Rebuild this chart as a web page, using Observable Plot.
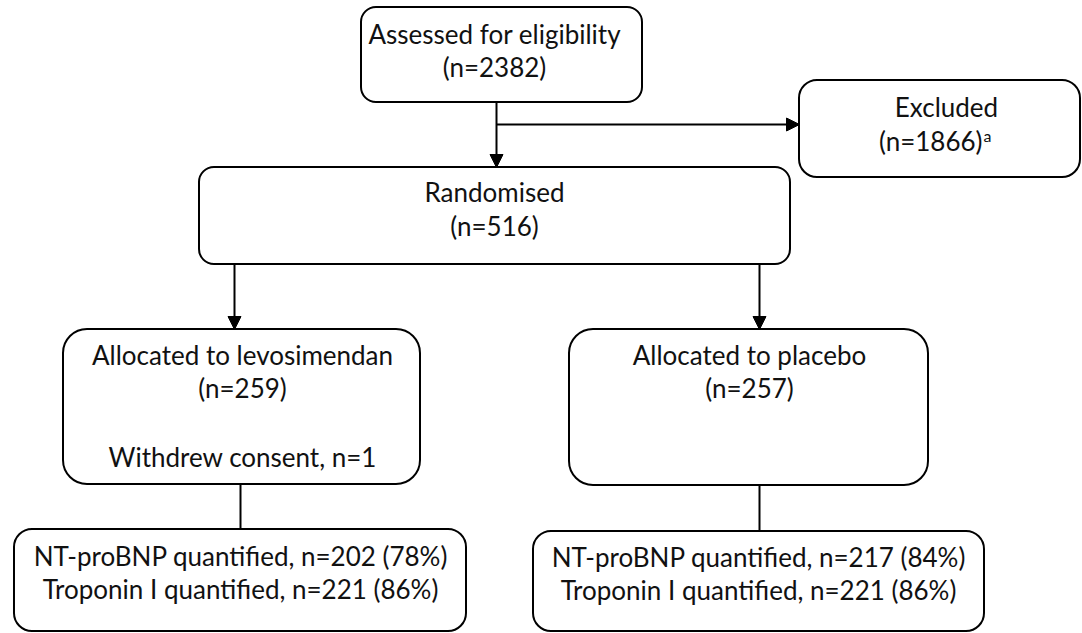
<!DOCTYPE html>
<html>
<head>
<meta charset="utf-8">
<script src="https://cdn.jsdelivr.net/npm/d3@7"></script>
<script src="https://cdn.jsdelivr.net/npm/@observablehq/plot@0.6"></script>
<style>
  html, body { margin: 0; padding: 0; background: #fff; }
  #chart svg { display: block; }
</style>
</head>
<body>
<div id="chart"></div>
<script>
// ---- data ----
const stageNames = ["Assessed for eligibility", "Excluded", "Randomised", "Allocated to levosimendan", "Allocated to placebo"];
const stageCounts = [2382, 1866, 516, 259, 257];
const withdrewLevo = 1;
const measureNames = ["NT-proBNP quantified", "Troponin I quantified"];
const levoMeasured = [202, 221];
const levoPercent = [78, 86];
const placeboMeasured = [217, 221];
const placeboPercent = [84, 86];
const footnoteMark = "a";

// ---- layout (diagram geometry) ----
const W = 1082, H = 633;
const boxLayout = [
  {x1: 361, x2: 642, y1: 7,   y2: 102, r: 15}, // assessed
  {x1: 799, x2: 1080, y1: 80, y2: 177, r: 18}, // excluded
  {x1: 199, x2: 790, y1: 167, y2: 264, r: 15}, // randomised
  {x1: 63,  x2: 420, y1: 329, y2: 484, r: 24}, // levo
  {x1: 569, x2: 928, y1: 329, y2: 485, r: 24}, // placebo
  {x1: 14,  x2: 466, y1: 529, y2: 631, r: 18}, // levo measured
  {x1: 533, x2: 984, y1: 531, y2: 631, r: 18}  // placebo measured
];
const textLayout = [
  {x: 494, y: [43, 76]},   // assessed
  {x: 946, y: [116, 150]}, // excluded
  {x: 494, y: [201, 235]}, // randomised
  {x: 242, y: [364, 397]}, // levo
  {x: 749, y: [364, 397]}, // placebo
];
const withdrewPos = {x: 242, y: 466};
const measuredPos = [{x: 240, y: [565, 598]}, {x: 758, y: [566, 599]}];
const excludedCountEnd = 982;
const connectors = [
  {x1: 496, y1: 102, x2: 496, y2: 167, head: true},
  {x1: 496, y1: 124, x2: 799, y2: 124, head: true},
  {x1: 234, y1: 264, x2: 234, y2: 329, head: true},
  {x1: 759, y1: 264, x2: 759, y2: 329, head: true},
  {x1: 240, y1: 484, x2: 240, y2: 529, head: false},
  {x1: 759, y1: 485, x2: 759, y2: 531, head: false}
];
const headLen = 13, headHalf = 6.5;

// ---- build tables ----
const texts = [];
const endTexts = [];
stageNames.forEach((name, i) => {
  const L = textLayout[i];
  texts.push({x: L.x, y: L.y[0], t: name});
  if (i === 1) endTexts.push({x: excludedCountEnd, y: L.y[1], t: `(n=${stageCounts[i]})`});
  else texts.push({x: L.x, y: L.y[1], t: `(n=${stageCounts[i]})`});
});
texts.push({x: withdrewPos.x, y: withdrewPos.y, t: `Withdrew consent, n=${withdrewLevo}`});
measureNames.forEach((m, j) => {
  texts.push({x: measuredPos[0].x, y: measuredPos[0].y[j], t: `${m}, n=${levoMeasured[j]} (${levoPercent[j]}%)`});
  texts.push({x: measuredPos[1].x, y: measuredPos[1].y[j], t: `${m}, n=${placeboMeasured[j]} (${placeboPercent[j]}%)`});
});
const sup = [{x: excludedCountEnd + 1, y: 141, t: footnoteMark}];

const stems = connectors.map(c => {
  if (!c.head) return c;
  const dx = Math.sign(c.x2 - c.x1), dy = Math.sign(c.y2 - c.y1);
  return {x1: c.x1, y1: c.y1, x2: c.x2 - dx * headLen, y2: c.y2 - dy * headLen};
});
const heads = [];
connectors.filter(c => c.head).forEach((c, k) => {
  const dx = Math.sign(c.x2 - c.x1), dy = Math.sign(c.y2 - c.y1);
  const bx = c.x2 - dx * headLen, by = c.y2 - dy * headLen;
  const px = -dy, py = dx;
  heads.push({k, x: c.x2, y: c.y2});
  heads.push({k, x: bx + px * headHalf, y: by + py * headHalf});
  heads.push({k, x: bx - px * headHalf, y: by - py * headHalf});
  heads.push({k, x: c.x2, y: c.y2});
});

const radii = Array.from(new Set(boxLayout.map(b => b.r)));
const font = "Lato, 'Open Sans', sans-serif";
const fs = 26;
const chart = Plot.plot({
  width: W, height: H,
  margin: 0,
  style: {fontFamily: font, background: "#fff"},
  x: {domain: [0, W], range: [0, W], axis: null},
  y: {domain: [0, H], range: [0, H], axis: null},
  marks: [
    ...radii.map(r => Plot.rect(boxLayout.filter(b => b.r === r), {x1: "x1", x2: "x2", y1: "y1", y2: "y2", rx: r, fill: "#fff", stroke: "#000", strokeWidth: 2})),
    Plot.link(stems, {x1: "x1", y1: "y1", x2: "x2", y2: "y2", stroke: "#000", strokeWidth: 2}),
    Plot.line(heads, {x: "x", y: "y", z: "k", fill: "#000", stroke: "#000", strokeWidth: 1, curve: "linear"}),
    Plot.text(texts, {x: "x", y: "y", text: "t", lineAnchor: "bottom", fontSize: fs, fill: "#111", fontFamily: font}),
    Plot.text(endTexts, {x: "x", y: "y", text: "t", lineAnchor: "bottom", textAnchor: "end", fontSize: fs, fill: "#111", fontFamily: font}),
    Plot.text(sup, {x: "x", y: "y", text: "t", lineAnchor: "bottom", textAnchor: "start", fontSize: 16, fill: "#111", fontFamily: font})
  ]
});
document.getElementById("chart").appendChild(chart);
</script>
</body>
</html>
